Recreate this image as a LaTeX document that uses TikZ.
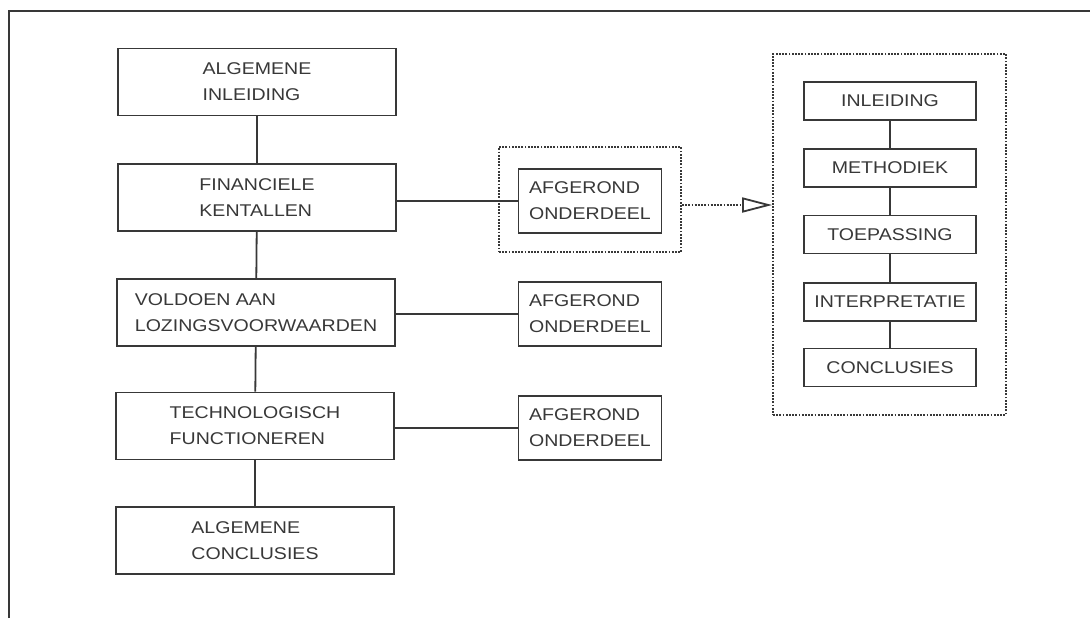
\documentclass[tikz,border=0pt]{standalone}
\usepackage{fontspec}
\setmainfont{Liberation Sans}[FakeStretch=1.15]
\usetikzlibrary{arrows.meta,calc}
\definecolor{ink}{HTML}{383838}
\begin{document}
\begin{tikzpicture}[x=0.5pt,y=-0.5pt,
  every node/.style={font=\fontsize{8.5}{13}\selectfont, text=ink},
  mainbox/.style={draw=ink, line width=0.9pt, minimum width=139pt, minimum height=33.5pt, align=left, inner sep=0pt},
  partbox/.style={draw=ink, line width=0.9pt, minimum width=71.5pt, minimum height=32pt, align=left, inner sep=0pt},
  subbox/.style={draw=ink, line width=0.9pt, minimum width=86pt, minimum height=19pt, inner sep=0pt},
  dotbox/.style={draw=ink, line width=0.9pt, dash pattern=on 0.9pt off 0.7pt, inner sep=0pt},
  link/.style={draw=ink, line width=0.9pt},
  dotlink/.style={draw=ink, line width=0.9pt, dash pattern=on 0.9pt off 0.7pt},
  frame/.style={draw=ink, line width=1pt}
]
\useasboundingbox (0,0) rectangle (1090,618);
% outer frame (top and left visible)
\coordinate (ftl) at (9,11);
\coordinate (ftr) at (1090,11);
\coordinate (fbl) at (9,618);
\draw[frame] (fbl) -- (ftl) -- (ftr);

% main column
\node[mainbox] (b1) at (257,82) {ALGEMENE\\INLEIDING};
\node[mainbox] (b2) at (257,197.5) {FINANCIELE\\KENTALLEN};
\node[mainbox] (b3) at (256,312.5) {VOLDOEN AAN\\LOZINGSVOORWAARDEN};
\node[mainbox] (b4) at (255,426) {TECHNOLOGISCH\\FUNCTIONEREN};
\node[mainbox] (b5) at (255,540.5) {ALGEMENE\\CONCLUSIES};

\draw[link] (b1) -- (b2);
\draw[link] (b2) -- (b3);
\draw[link] (b3) -- (b4);
\draw[link] (b4) -- (b5);

% parts
\node[partbox] (a1) at (590,201) {AFGEROND\\ONDERDEEL};
\node[partbox] (a2) at (590,314) {AFGEROND\\ONDERDEEL};
\node[partbox] (a3) at (590,428) {AFGEROND\\ONDERDEEL};
\node[dotbox, minimum width=91pt, minimum height=52.5pt] (d1) at (590,199.5) {};

\draw[link] (a1.west) -- (a1.west -| b2.east);
\draw[link] (a2.west) -- (a2.west -| b3.east);
\draw[link] (a3.west) -- (a3.west -| b4.east);

% detail column
\node[subbox] (r1) at (890,101) {INLEIDING};
\node[subbox] (r2) at (890,168) {METHODIEK};
\node[subbox] (r3) at (890,234.5) {TOEPASSING};
\node[subbox] (r4) at (890,302) {INTERPRETATIE};
\node[subbox] (r5) at (890,367.5) {CONCLUSIES};
\node[dotbox, minimum width=116.5pt, minimum height=180.5pt] (d2) at (889.5,234.5) {};

\draw[link] (r1) -- (r2);
\draw[link] (r2) -- (r3);
\draw[link] (r3) -- (r4);
\draw[link] (r4) -- (r5);

% dotted arrow
\coordinate (ay) at (0,205);
\draw[dotlink, -{Triangle[open, length=15pt, width=7.5pt, line width=0.9pt]}] (d1.east |- ay) -- (d2.west |- ay);
\end{tikzpicture}
\end{document}
